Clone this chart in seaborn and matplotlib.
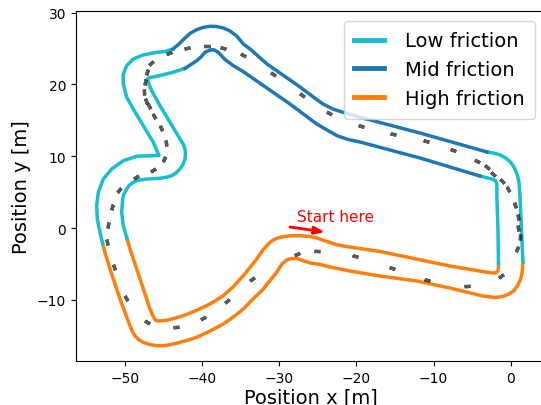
import numpy as np
import pandas as pd
import matplotlib
matplotlib.use("Agg")
import matplotlib.pyplot as plt
from matplotlib.lines import Line2D
import seaborn as sns

# track boundaries, split where the friction level changes (x, y in m)
outer_high = [(-52.89, -2.23), (-52.46, -3.90), (-51.94, -5.71), (-50.65, -9.89), (-49.35, -13.61),
              (-49.03, -14.42), (-48.70, -15.00), (-48.18, -15.60), (-47.63, -15.92), (-46.76, -16.23),
              (-45.89, -16.39), (-44.81, -16.37), (-43.74, -16.16), (-42.22, -15.74), (-40.70, -15.22),
              (-38.98, -14.35), (-37.26, -13.37), (-35.96, -12.40), (-34.66, -11.28), (-33.41, -9.89),
              (-32.07, -8.50), (-31.20, -7.31), (-30.33, -6.17), (-29.65, -5.01), (-29.04, -4.46),
              (-28.48, -4.25), (-27.70, -4.25), (-26.92, -4.53), (-26.02, -4.87), (-24.72, -5.08),
              (-23.42, -5.43), (-20.83, -5.99), (-16.94, -6.69), (-12.15, -7.38), (-7.87, -8.36),
              (-3.59, -9.47), (-2.04, -9.68), (-1.00, -9.54), (-0.22, -9.19), (0.43, -8.71),
              (0.95, -7.94), (1.34, -6.96), (1.53, -5.85), (1.59, -4.74)]
outer_low_right = [(1.59, -4.74), (1.46, -1.53), (1.34, 1.25), (1.21, 4.46), (1.08, 6.41),
                   (0.82, 7.52), (0.43, 8.50), (-0.09, 9.26), (-0.74, 9.82), (-1.52, 10.24),
                   (-2.29, 10.45), (-3.07, 10.59)]
outer_mid = [(-3.07, 10.59), (-11.76, 13.23), (-19.54, 15.42), (-21.74, 16.11), (-23.04, 16.57),
             (-24.33, 17.27), (-25.76, 18.38), (-27.31, 19.64), (-31.59, 22.84), (-33.79, 24.93),
             (-34.66, 25.63), (-35.52, 26.74), (-36.39, 27.44), (-37.26, 27.86), (-38.20, 28.07),
             (-38.98, 28.09), (-39.89, 27.93), (-40.79, 27.58), (-41.57, 27.09), (-42.35, 26.32),
             (-43.00, 25.63), (-43.78, 24.93)]
outer_low_left = [(-43.78, 24.93), (-44.81, 24.58), (-45.89, 24.47), (-47.63, 24.10), (-48.92, 23.54),
                  (-49.78, 22.61), (-50.22, 21.45), (-50.22, 20.06), (-49.78, 18.20), (-48.92, 16.57),
                  (-47.63, 14.25), (-46.33, 11.94), (-45.59, 10.10), (-46.54, 10.07), (-48.48, 9.99),
                  (-50.22, 9.37), (-51.72, 8.22), (-52.81, 6.82), (-53.46, 4.97), (-53.67, 3.11),
                  (-53.59, 1.25), (-53.24, -0.60), (-52.89, -2.23)]

inner_high = [(-49.74, -1.46), (-49.35, -2.92), (-48.05, -7.10), (-46.76, -11.28), (-46.24, -12.54),
              (-45.98, -12.88), (-45.46, -12.95), (-44.68, -12.86), (-43.65, -12.60), (-42.44, -12.21),
              (-40.92, -11.56), (-39.41, -10.82), (-38.33, -10.17), (-37.26, -9.43), (-36.00, -8.22),
              (-34.66, -6.64), (-33.79, -5.50), (-32.93, -4.32), (-32.11, -3.06), (-31.20, -1.99),
              (-30.55, -1.53), (-29.91, -1.30), (-28.61, -1.07), (-27.31, -1.07), (-26.02, -1.18),
              (-25.11, -1.39), (-24.20, -1.74), (-23.42, -2.02), (-22.65, -2.30), (-21.48, -2.55),
              (-16.94, -3.27), (-7.87, -5.29), (-2.68, -6.23), (-2.04, -6.27), (-1.71, -6.06),
              (-1.58, -5.64), (-1.58, -5.01)]
inner_low_right = [(-1.58, -5.01), (-1.65, -0.14), (-1.78, 4.04), (-1.80, 6.13), (-1.97, 6.62),
                   (-2.42, 6.82), (-3.20, 7.03), (-3.98, 7.24)]
inner_mid = [(-3.98, 7.24), (-11.76, 9.75), (-19.54, 11.98), (-21.09, 12.33), (-22.52, 12.86),
             (-23.81, 13.65), (-25.15, 14.49), (-28.61, 17.27), (-34.70, 21.80), (-35.96, 22.61),
             (-37.04, 23.47), (-37.90, 24.47), (-38.40, 24.79), (-38.76, 24.83), (-39.24, 24.65),
             (-39.63, 24.47), (-40.15, 23.82), (-40.70, 23.30), (-41.44, 22.77), (-42.22, 22.24)]
inner_low_left = [(-42.22, 22.24), (-43.74, 21.69), (-45.89, 21.13), (-46.76, 20.96), (-47.11, 20.75),
                  (-46.95, 20.20), (-46.54, 19.12), (-45.46, 17.03), (-44.16, 14.72), (-42.87, 12.40),
                  (-42.42, 11.63), (-42.22, 11.00), (-42.16, 10.31), (-42.22, 9.61), (-42.48, 8.84),
                  (-42.87, 8.22), (-43.39, 7.66), (-43.94, 7.28), (-44.68, 7.06), (-45.46, 6.92),
                  (-47.19, 6.82), (-48.31, 6.64), (-48.92, 6.37), (-49.48, 5.92), (-49.78, 5.43),
                  (-50.13, 4.74), (-50.30, 4.04), (-50.43, 2.19), (-50.22, 0.32), (-49.74, -1.46)]

# raceline waypoints (drawn as short dashes)
raceline = [(-27.70, -3.62), (-25.11, -3.20), (-20.18, -3.90), (-15.39, -5.57), (-10.85, -7.24),
            (-5.66, -8.08), (-1.26, -6.69), (0.82, -2.92), (1.21, -1.25), (0.95, 0.00), (0.95, 1.53),
            (0.56, 3.20), (-0.35, 5.43), (-1.13, 6.55), (-2.29, 7.52), (-3.07, 8.50), (-4.37, 9.33),
            (-7.48, 10.86), (-10.98, 12.12), (-15.26, 13.09), (-19.41, 14.21), (-23.55, 16.02),
            (-27.05, 18.52), (-30.81, 21.45), (-34.70, 24.09), (-37.29, 25.07), (-39.37, 25.35),
            (-41.96, 25.07), (-44.29, 24.37), (-46.63, 22.98), (-47.15, 21.73), (-47.41, 20.33),
            (-47.54, 18.94), (-47.28, 17.69), (-46.89, 16.99), (-46.24, 15.60), (-45.33, 13.93),
            (-44.68, 11.84), (-44.94, 9.61), (-46.37, 8.08), (-48.57, 7.10), (-50.78, 5.29),
            (-51.68, 2.92), (-52.20, 0.42), (-52.33, -1.95), (-51.42, -5.43), (-49.87, -9.75),
            (-47.15, -13.09), (-43.39, -13.79), (-39.89, -12.54), (-36.78, -10.17), (-33.54, -7.10)]

start_tail = (-28.61, 0.14)
start_head = (-24.07, -0.56)

labels = ['Low friction', 'Mid friction', 'High friction']
palette = {'Low friction': '#17becf', 'Mid friction': '#1f77b4', 'High friction': '#ff7f0e'}

segments = [('High friction', outer_high), ('Low friction', outer_low_right),
            ('Mid friction', outer_mid), ('Low friction', outer_low_left),
            ('High friction', inner_high), ('Low friction', inner_low_right),
            ('Mid friction', inner_mid), ('Low friction', inner_low_left)]

rows = []
for i, (fr, pts) in enumerate(segments):
    for x, y in pts:
        rows.append({'x': x, 'y': y, 'friction': fr, 'seg': i})
df = pd.DataFrame(rows)

fig = plt.figure(figsize=(5.41, 4.06), dpi=100)
ax = fig.add_axes([76 / 541, 44 / 406, 469 / 541, 350 / 406])

sns.lineplot(data=df, x='x', y='y', hue='friction', units='seg', estimator=None,
             sort=False, palette=palette, lw=2.5, legend=False, ax=ax)

ax.set_xlim(-56.35, 4.45)
ax.set_ylim(-18.52, 30.22)
ax.set_xticks([-50, -40, -30, -20, -10, 0])
ax.set_yticks([-10, 0, 10, 20, 30])

# dashes oriented along the raceline
rl = np.array(raceline)
disp = ax.transData.transform(rl)
d = np.roll(disp, -1, axis=0) - np.roll(disp, 1, axis=0)
angles = np.degrees(np.arctan2(d[:, 1], d[:, 0]))
for (x, y), a in zip(rl, angles):
    ax.plot(x, y, marker=(2, 2, a - 90), ms=4.2, mew=2.4, color='k', alpha=0.65,
            linestyle='none')

ax.annotate('', xy=start_head, xytext=start_tail,
            arrowprops=dict(arrowstyle='-|>,head_length=0.6,head_width=0.22', color='red',
                            lw=2, shrinkA=0, shrinkB=0))
ax.text(-27.7, 1.0, 'Start here', color='red', fontsize=11, va='baseline')

ax.set_xlabel('Position x [m]', fontsize=14, labelpad=2)
ax.set_ylabel('Position y [m]', fontsize=14)
ax.tick_params(labelsize=10)

handles = [Line2D([0], [0], color=palette[l], lw=3.5) for l in labels]
ax.legend(handles, labels, loc='upper right', fontsize=14, handlelength=1.5,
          handletextpad=1.1, borderpad=0.55)

fig.savefig('out.png', dpi=100)
